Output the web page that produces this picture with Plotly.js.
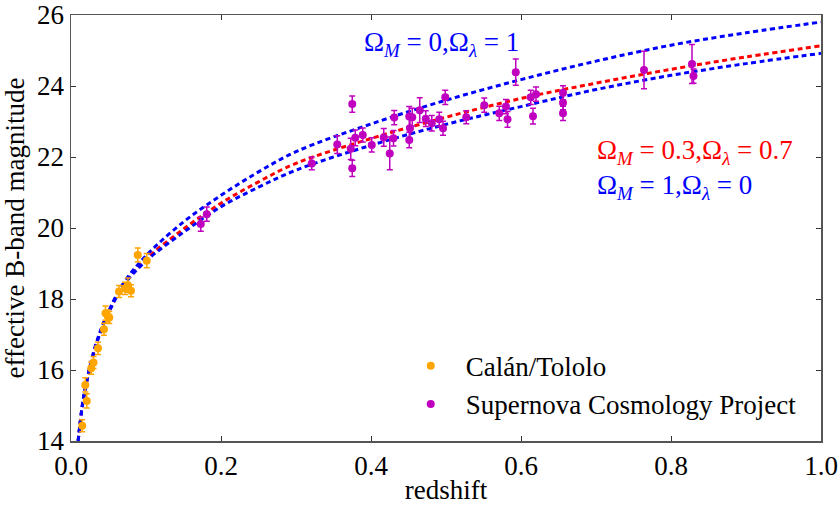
<!DOCTYPE html>
<html>
<head>
<meta charset="utf-8">
<script src="https://cdn.plot.ly/plotly-3.0.1.min.js"></script>
<style>html,body{margin:0;padding:0;background:#fff;}#chart{width:840px;height:507px;}</style>
</head>
<body>
<div id="chart"></div>
<script>
// Model curves
var zCurve = [0.0095, 0.015, 0.02, 0.03, 0.04, 0.05, 0.07, 0.1, 0.15, 0.2, 0.25, 0.3, 0.4, 0.5, 0.6, 0.7, 0.8, 0.9, 1.0];
var mLambda = [14.0, 15.0, 15.6, 16.5, 17.15, 17.65, 18.45, 19.22, 20.17, 20.92, 21.58, 22.15, 22.93, 23.6, 24.18, 24.7, 25.15, 25.5, 25.8];
var mFlat = [14.0, 14.98, 15.58, 16.47, 17.12, 17.62, 18.4, 19.12, 19.97, 20.7, 21.3, 21.82, 22.52, 23.12, 23.65, 24.08, 24.47, 24.82, 25.13];
var mMatter = [14.0, 14.98, 15.57, 16.46, 17.1, 17.6, 18.38, 19.07, 19.88, 20.6, 21.15, 21.63, 22.33, 22.92, 23.42, 23.9, 24.3, 24.63, 24.92];

// Calán/Tololo
var ctZ = [0.015, 0.019, 0.021, 0.027, 0.030, 0.036, 0.044, 0.046, 0.049, 0.051, 0.064, 0.072, 0.076, 0.080, 0.089, 0.101];
var ctM = [14.43, 15.58, 15.13, 16.05, 16.21, 16.61, 17.15, 17.6, 17.52, 17.48, 18.21, 18.3, 18.39, 18.23, 19.24, 19.08];
var ctErr = [0.17, 0.2, 0.2, 0.17, 0.17, 0.17, 0.17, 0.2, 0.17, 0.17, 0.17, 0.17, 0.2, 0.17, 0.2, 0.2];

// Supernova Cosmology Project
var scpZ = [0.173, 0.181, 0.321, 0.355, 0.373, 0.375, 0.375, 0.379, 0.389, 0.401, 0.417, 0.425, 0.430, 0.431, 0.451, 0.451, 0.452, 0.455, 0.465, 0.473, 0.481, 0.491, 0.496, 0.499, 0.527, 0.551, 0.571, 0.580, 0.582, 0.593, 0.613, 0.616, 0.620, 0.656, 0.656, 0.656, 0.764, 0.828, 0.830];
var scpM = [20.11, 20.39, 21.82, 22.35, 22.23, 23.49, 21.68, 22.54, 22.62, 22.34, 22.55, 22.10, 22.53, 23.11, 23.14, 22.48, 22.81, 23.12, 23.32, 23.08, 22.95, 23.06, 22.81, 23.68, 23.12, 23.46, 23.23, 23.42, 23.06, 24.39, 23.68, 23.15, 23.77, 23.81, 23.53, 23.23, 24.45, 24.62, 24.28];
var scpErr = [0.2, 0.2, 0.18, 0.25, 0.3, 0.23, 0.23, 0.22, 0.2, 0.2, 0.25, 0.46, 0.22, 0.2, 0.28, 0.22, 0.3, 0.25, 0.35, 0.22, 0.22, 0.2, 0.2, 0.2, 0.18, 0.2, 0.2, 0.2, 0.22, 0.37, 0.2, 0.22, 0.2, 0.2, 0.2, 0.2, 0.53, 0.55, 0.2];

var curveLine = function(color){ return {color: color, width: 3, dash: '5px,3.5px', shape: 'spline'}; };

var traces = [
  {x: zCurve, y: mFlat, mode: 'lines', line: curveLine('#ff0000'), showlegend: false, hoverinfo: 'skip'},
  {x: zCurve, y: mMatter, mode: 'lines', line: curveLine('#0000ff'), showlegend: false, hoverinfo: 'skip'},
  {x: zCurve, y: mLambda, mode: 'lines', line: curveLine('#0000ff'), showlegend: false, hoverinfo: 'skip'},
  {x: ctZ, y: ctM, mode: 'markers', name: 'Calán/Tololo',
   marker: {color: '#ffa500', size: 8},
   error_y: {type: 'data', array: ctErr, visible: true, color: '#ffa500', thickness: 1.5, width: 3}},
  {x: scpZ, y: scpM, mode: 'markers', name: 'Supernova Cosmology Project',
   marker: {color: '#bf00bf', size: 8},
   error_y: {type: 'data', array: scpErr, visible: true, color: '#bf00bf', thickness: 1.5, width: 3}}
];

var fontFam = '"Liberation Serif", "DejaVu Serif", serif';
var axisCommon = {
  showline: true, mirror: 'ticks', linecolor: '#555555', linewidth: 1.5,
  ticks: 'inside', ticklen: 5, tickcolor: '#333333', tickwidth: 1,
  showgrid: false, zeroline: false,
  tickfont: {family: fontFam, size: 27, color: '#000'}
};

var layout = {
  width: 840, height: 507,
  margin: {l: 71, r: 19, t: 15, b: 66},
  paper_bgcolor: '#fff', plot_bgcolor: '#fff',
  font: {family: fontFam, color: '#000'},
  xaxis: Object.assign({}, axisCommon, {
    range: [0, 1], tickvals: [0, 0.2, 0.4, 0.6, 0.8, 1.0], ticktext: ['0.0','0.2','0.4','0.6','0.8','1.0'],
    title: {text: 'redshift', font: {family: fontFam, size: 27}, standoff: 0}
  }),
  yaxis: Object.assign({}, axisCommon, {
    range: [14, 26], tickvals: [14, 16, 18, 20, 22, 24, 26],
    title: {text: 'effective B-band magnitude', font: {family: fontFam, size: 27}, standoff: 4}
  }),
  legend: {
    x: 0.433, y: 0.233, xanchor: 'left', yanchor: 'top',
    bgcolor: 'rgba(255,255,255,0)', borderwidth: 0,
    font: {family: fontFam, size: 27}, itemwidth: 60, tracegroupgap: 0
  },
  annotations: [
    {xref: 'paper', yref: 'paper', x: 0.388, y: 0.933, xanchor: 'left', yanchor: 'middle', showarrow: false,
     text: 'Ω<sub><i>M</i></sub> = 0,Ω<sub><i>λ</i></sub> = 1', font: {family: fontFam, size: 27, color: '#0000ff'}},
    {xref: 'paper', yref: 'paper', x: 0.698, y: 0.678, xanchor: 'left', yanchor: 'middle', showarrow: false,
     text: 'Ω<sub><i>M</i></sub> = 0.3,Ω<sub><i>λ</i></sub> = 0.7', font: {family: fontFam, size: 27, color: '#ff0000'}},
    {xref: 'paper', yref: 'paper', x: 0.698, y: 0.597, xanchor: 'left', yanchor: 'middle', showarrow: false,
     text: 'Ω<sub><i>M</i></sub> = 1,Ω<sub><i>λ</i></sub> = 0', font: {family: fontFam, size: 27, color: '#0000ff'}}
  ]
};

Plotly.newPlot('chart', traces, layout, {staticPlot: true, displayModeBar: false});
</script>
</body>
</html>
